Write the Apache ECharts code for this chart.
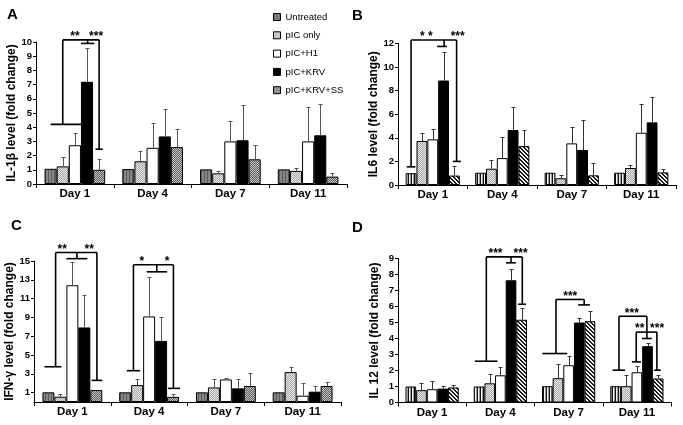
<!DOCTYPE html>
<html><head><meta charset="utf-8">
<script src="https://cdn.jsdelivr.net/npm/echarts@6/dist/echarts.min.js"></script>
<style>html,body{margin:0;padding:0;background:#fff}#c{width:683px;height:425px}</style>
</head><body><div id="c"></div>
<script>
const days = ['Day 1', 'Day 4', 'Day 7', 'Day 11'];
const groups = ['Untreated', 'pIC only', 'pIC+H1', 'pIC+KRV', 'pIC+KRV+SS'];

// Panel A: IL-1beta (mean, SD)
const il1bUntreated = [1.07, 1.05, 1.03, 1.03];
const il1bPic = [1.24, 1.6, 0.75, 0.92];
const il1bH1 = [2.73, 2.55, 3.0, 3.0];
const il1bKrv = [7.2, 3.35, 3.08, 3.43];
const il1bSs = [1.0, 2.6, 1.74, 0.52];
const il1bUntreatedSd = [0, 0, 0, 0];
const il1bPicSd = [0.68, 0.7, 0.17, 0.18];
const il1bH1Sd = [0.84, 1.75, 1.44, 2.4];
const il1bKrvSd = [2.4, 1.95, 2.48, 2.17];
const il1bSsSd = [0.75, 1.3, 0.98, 0.28];

// Panel B: IL6
const il6Untreated = [1.0, 1.04, 1.04, 1.04];
const il6Pic = [3.73, 1.38, 0.57, 1.44];
const il6H1 = [3.87, 2.28, 3.53, 4.43];
const il6Krv = [8.86, 4.66, 2.97, 5.31];
const il6Ss = [0.8, 3.3, 0.82, 1.07];
const il6UntreatedSd = [0, 0, 0, 0];
const il6PicSd = [0.71, 0.72, 0.28, 0.25];
const il6H1Sd = [0.92, 1.82, 1.41, 2.41];
const il6KrvSd = [2.39, 1.94, 2.53, 2.19];
const il6SsSd = [0.8, 1.33, 1.02, 0.29];

// Panel C: IFN-gamma
const ifnUntreated = [1.03, 1.03, 1.03, 1.03];
const ifnPic = [0.56, 1.8, 1.55, 3.18];
const ifnH1 = [12.42, 9.1, 2.4, 0.67];
const ifnKrv = [7.93, 6.5, 1.45, 1.1];
const ifnSs = [1.27, 0.55, 1.7, 1.7];
const ifnUntreatedSd = [0, 0, 0, 0];
const ifnPicSd = [0.26, 0.6, 0.95, 0.57];
const ifnH1Sd = [2.44, 4.2, 0.15, 1.33];
const ifnKrvSd = [3.43, 2.5, 1.0, 0.6];
const ifnSsSd = [0, 0.25, 1.4, 0.39];

// Panel D: IL 12
const il12Untreated = [1.0, 1.0, 1.02, 1.02];
const il12Pic = [0.77, 1.2, 1.52, 1.02];
const il12H1 = [0.83, 1.7, 2.33, 1.89];
const il12Krv = [0.87, 7.64, 5.0, 3.52];
const il12Ss = [0.94, 5.17, 5.08, 1.5];
const il12UntreatedSd = [0, 0, 0, 0];
const il12PicSd = [0.46, 0.61, 0.86, 0.68];
const il12H1Sd = [0.5, 0.49, 0.55, 0.38];
const il12KrvSd = [0.15, 0.69, 0.3, 0.17];
const il12SsSd = [0.14, 0.73, 0.61, 0.2];

// Y axis ticks
const il1bTicks = [0, 10, 1];
const il6Ticks = [0, 12, 2];
const ifnTicks = [0, 1, 3, 5, 7, 9, 11, 13, 15];
const il12Ticks = [0, 9, 1];

// Significance brackets: category, top value, legs [barPos, bottom value, capFrom, capTo]
const il1bBrackets = [
  {cat: 0, top: 10.15, legs: [[1, 4.2, 0, 2.85], [3.05, 9.9, 2.5, 3.6], [4, 2.45, 3.7, 4.3]]}
];
const il1bStars = [[0, 2.0, 10.15, '**'], [0, 3.75, 10.15, '***']];
const il6Brackets = [
  {cat: 0, top: 12.3, legs: [[0, 1.54, -0.4, 0.4], [3.05, 11.75, 2.4, 3.3], [4.2, 2.0, 3.85, 4.6]]}
];
const il6Stars = [[0, 1.4, 12.3, '* *'], [0, 4.3, 12.3, '***']];
const ifnBrackets = [
  {cat: 0, top: 15.9, legs: [[0.6, 3.75, -0.33, 1.08], [2.38, 15.25, 1.5, 3.25], [4.05, 2.3, 3.6, 4.5]]},
  {cat: 1, top: 14.6, legs: [[0.69, 3.33, 0.14, 1.25], [2.64, 13.85, 1.8, 3.5], [4.03, 1.45, 3.58, 4.58]]}
];
const ifnStars = [[0, 1.15, 15.9, '**'], [0, 3.4, 15.9, '**'], [1, 1.4, 14.6, '*'], [1, 3.5, 14.6, '*']];
const il12Brackets = [
  {cat: 1, top: 9.1, legs: [[0.68, 2.58, -0.4, 1.72], [3.0, 8.73, 2.53, 3.45], [4.06, 6.14, 3.67, 4.4]]},
  {cat: 2, top: 6.44, legs: [[0.81, 3.06, -0.47, 1.87], [3.46, 6.1, 2.9, 4.0]]},
  {cat: 3, top: 5.39, legs: [[0.32, 2.02, -0.28, 0.9], [2.94, 4.4, 2.94, 2.94]]},
  {cat: 3, top: 4.4, legs: [[1.94, 2.54, 1.53, 2.38], [2.94, 4.0, 2.47, 3.4], [3.88, 2.02, 3.62, 4.25]]}
];
const il12Stars = [[1, 1.54, 9.1, '***'], [1, 3.9, 9.1, '***'], [2, 2.15, 6.44, '***'],
  [3, 1.53, 5.39, '***'], [3, 2.26, 4.4, '**'], [3, 3.9, 4.4, '***']];

// ---------- patterns ----------
function pattern(w, h, fn) {
  const c = document.createElement('canvas');
  c.width = w; c.height = h;
  const ctx = c.getContext('2d');
  for (let y = 0; y < h; y++) for (let x = 0; x < w; x++) {
    ctx.fillStyle = fn(x, y);
    ctx.fillRect(x, y, 1, 1);
  }
  return {image: c, repeat: 'repeat'};
}
const pGrayStripe = pattern(3, 1, x => x === 0 ? '#5a5a5a' : '#878787');
const pBWStripe = pattern(3, 1, x => x === 0 ? '#111' : (x === 1 ? '#f4f4f4' : '#9a9a9a'));
const pDots = pattern(2, 2, (x, y) => (x + y) % 2 ? '#a8a8a8' : '#e8e8e8');
const pChecker = pattern(2, 2, (x, y) => (x + y) % 2 ? '#5a5a5a' : '#c8c8c8');
const pDiag = pattern(4, 4, (x, y) => ((x - y + 4) % 4 < 2) ? '#1a1a1a' : '#f4f4f4');

const styleAC = [pGrayStripe, pDots, '#ffffff', '#000000', pChecker];
const styleBD = [pBWStripe, pDots, '#ffffff', '#000000', pDiag];

const CAT_FILL = 0.78;
const FONT = 'Liberation Sans';

function barSeries(gi, values, fills) {
  return values.map((v, i) => ({
    type: 'bar', name: groups[i], xAxisIndex: gi, yAxisIndex: gi, data: v,
    barGap: '0%', barCategoryGap: ((1 - CAT_FILL) * 100) + '%',
    itemStyle: {color: fills[i], borderColor: '#000', borderWidth: 1},
    emphasis: {disabled: true}, silent: true
  }));
}

function errSeries(gi, means, sds, color) {
  const data = [];
  means.forEach((arr, b) => arr.forEach((m, d) => {
    if (sds[b][d] > 0) data.push([d, m, sds[b][d], b]);
  }));
  return {
    type: 'custom', xAxisIndex: gi, yAxisIndex: gi, z: 5, silent: true, clip: false,
    encode: {x: 0, y: 1}, data,
    renderItem: (params, api) => {
      const d = api.value(0), m = api.value(1), s = api.value(2), b = api.value(3);
      const base = api.coord([d, m]);
      const top = api.coord([d, m + s]);
      const bw = api.size([1, 0])[0] * CAT_FILL / 5;
      const x = Math.round(base[0] + (b - 2) * bw) + 0.5;
      const yt = Math.round(top[1]) + 0.5;
      return {type: 'group', children: [
        {type: 'line', shape: {x1: x, y1: base[1], x2: x, y2: yt}, style: {stroke: color, lineWidth: 1}},
        {type: 'line', shape: {x1: x - 2, y1: yt, x2: x + 2, y2: yt}, style: {stroke: color, lineWidth: 1}}
      ]};
    }
  };
}

function bracketSeries(gi, brackets, stars) {
  const data = brackets.map(b => [b.cat, b.top, 'b'])
    .concat(stars.map(s => [s[0], s[2], 's']));
  return {
    type: 'custom', xAxisIndex: gi, yAxisIndex: gi, z: 6, silent: true, clip: false,
    encode: {x: 0, y: 1}, data,
    renderItem: (params, api) => {
      const idx = params.dataIndex;
      const bw = api.size([1, 0])[0] * CAT_FILL / 5;
      const lw = 1.6;
      const st = {stroke: '#000', lineWidth: lw};
      if (idx < brackets.length) {
        const b = brackets[idx];
        const cx = api.coord([b.cat, 0])[0];
        const X = u => cx + (u - 2) * bw;
        const Y = v => api.coord([b.cat, v])[1];
        const children = [];
        const xs = b.legs.map(l => X(l[0]));
        const yTop = Y(b.top);
        children.push({type: 'line', shape: {x1: Math.min(...xs), y1: yTop, x2: Math.max(...xs), y2: yTop}, style: st});
        b.legs.forEach(l => {
          const x = X(l[0]), yb = Y(l[1]);
          children.push({type: 'line', shape: {x1: x, y1: yTop, x2: x, y2: yb}, style: st});
          if (l[3] > l[2]) children.push({type: 'line', shape: {x1: X(l[2]), y1: yb, x2: X(l[3]), y2: yb}, style: st});
        });
        return {type: 'group', children};
      } else {
        const s = stars[idx - brackets.length];
        const cx = api.coord([s[0], 0])[0];
        const x = cx + (s[1] - 2) * bw;
        const y = api.coord([s[0], s[2]])[1];
        return {type: 'text', style: {text: s[3], x, y: y + 3, align: 'center', verticalAlign: 'bottom',
          fontSize: 12, fontWeight: 'bold', fontFamily: FONT, fill: '#000'}};
      }
    }
  };
}

function xAxis(gi) {
  return {
    type: 'category', gridIndex: gi, data: days,
    axisLine: {show: true, lineStyle: {color: '#000', width: 1}},
    axisTick: {show: true, alignWithLabel: false, length: 4, lineStyle: {color: '#000'}},
    axisLabel: {fontSize: 11.5, fontWeight: 'bold', color: '#000', fontFamily: FONT, margin: 4},
    splitLine: {show: false}
  };
}
function yAxis(gi, name, min, max, interval, nameGap, custom) {
  const ax = {
    type: 'value', gridIndex: gi, min, max, interval, name, nameLocation: 'middle', nameGap,
    nameTextStyle: {fontSize: 12, fontWeight: 'bold', color: '#000', fontFamily: FONT},
    axisLine: {show: true, lineStyle: {color: '#000', width: 1}},
    axisTick: {show: true, length: 3, lineStyle: {color: '#000'}},
    axisLabel: {fontSize: 9.5, fontWeight: 'bold', color: '#000', fontFamily: FONT, margin: 4},
    splitLine: {show: false}
  };
  if (custom) {
    ax.axisLabel.customValues = custom;
    ax.axisTick.customValues = custom;
  }
  return ax;
}

const aMeans = [il1bUntreated, il1bPic, il1bH1, il1bKrv, il1bSs];
const aSds = [il1bUntreatedSd, il1bPicSd, il1bH1Sd, il1bKrvSd, il1bSsSd];
const bMeans = [il6Untreated, il6Pic, il6H1, il6Krv, il6Ss];
const bSds = [il6UntreatedSd, il6PicSd, il6H1Sd, il6KrvSd, il6SsSd];
const cMeans = [ifnUntreated, ifnPic, ifnH1, ifnKrv, ifnSs];
const cSds = [ifnUntreatedSd, ifnPicSd, ifnH1Sd, ifnKrvSd, ifnSsSd];
const dMeans = [il12Untreated, il12Pic, il12H1, il12Krv, il12Ss];
const dSds = [il12UntreatedSd, il12PicSd, il12H1Sd, il12KrvSd, il12SsSd];

const chart = echarts.init(document.getElementById('c'), null, {renderer: 'canvas'});
chart.setOption({
  animation: false,
  backgroundColor: '#fff',
  grid: [
    {left: 36, width: 311, top: 42, height: 142},
    {left: 398, width: 278, top: 43.5, height: 141.5},
    {left: 34, width: 307, top: 261, height: 141},
    {left: 398, width: 273, top: 258.5, height: 144}
  ],
  xAxis: [xAxis(0), xAxis(1), xAxis(2), xAxis(3)],
  yAxis: [
    yAxis(0, 'IL-1β level (fold change)', il1bTicks[0], il1bTicks[1], il1bTicks[2], 17),
    yAxis(1, 'IL6 level (fold change)', il6Ticks[0], il6Ticks[1], il6Ticks[2], 15),
    yAxis(2, 'IFN-γ level (fold change)', ifnTicks[0], ifnTicks[ifnTicks.length - 1], 1, 16, ifnTicks),
    yAxis(3, 'IL 12 level (fold change)', il12Ticks[0], il12Ticks[1], il12Ticks[2], 17)
  ],
  legend: {
    data: groups, orient: 'vertical', left: 273, top: 11, padding: 0,
    itemWidth: 7, itemHeight: 7, itemGap: 6.3,
    icon: 'rect', selectedMode: false,
    itemStyle: {borderColor: '#000', borderWidth: 1},
    textStyle: {fontSize: 9.5, fontFamily: FONT, color: '#000', lineHeight: 12}
  },
  graphic: [
    {type: 'text', left: 7, top: 7, style: {text: 'A', font: 'bold 15px Liberation Sans', fill: '#000'}},
    {type: 'text', left: 352, top: 8, style: {text: 'B', font: 'bold 15px Liberation Sans', fill: '#000'}},
    {type: 'text', left: 11, top: 218, style: {text: 'C', font: 'bold 15px Liberation Sans', fill: '#000'}},
    {type: 'text', left: 352, top: 220, style: {text: 'D', font: 'bold 15px Liberation Sans', fill: '#000'}}
  ],
  series: [].concat(
    barSeries(0, aMeans, styleAC), [errSeries(0, aMeans, aSds, '#555'), bracketSeries(0, il1bBrackets, il1bStars)],
    barSeries(1, bMeans, styleBD), [errSeries(1, bMeans, bSds, '#333'), bracketSeries(1, il6Brackets, il6Stars)],
    barSeries(2, cMeans, styleAC), [errSeries(2, cMeans, cSds, '#555'), bracketSeries(2, ifnBrackets, ifnStars)],
    barSeries(3, dMeans, styleBD), [errSeries(3, dMeans, dSds, '#333'), bracketSeries(3, il12Brackets, il12Stars)]
  )
});
</script>
</body></html>
